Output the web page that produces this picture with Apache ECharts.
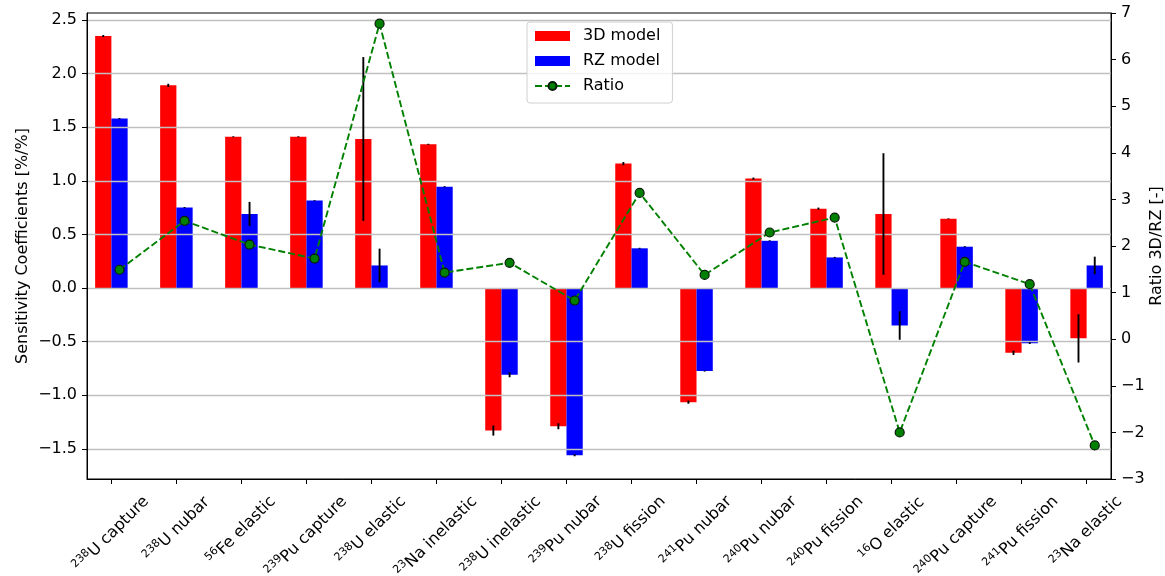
<!DOCTYPE html>
<html>
<head>
<meta charset="utf-8">
<script src="https://cdn.jsdelivr.net/npm/echarts@6/dist/echarts.min.js"></script>
<style>
  html, body { margin: 0; padding: 0; background: #fff; }
  #chart { width: 1165px; height: 576px; }
</style>
</head>
<body>
<div id="chart"></div>
<script>
// Nuclide mass numbers and reaction names for each category
const massNumbers = ['238', '238', '56', '239', '238', '23', '238', '239', '238', '241', '240', '240', '16', '240', '241', '23'];
const reactions = ['U capture', 'U nubar', 'Fe elastic', 'Pu capture', 'U elastic', 'Na inelastic', 'U inelastic', 'Pu nubar',
                   'U fission', 'Pu nubar', 'Pu nubar', 'Pu fission', 'O elastic', 'Pu capture', 'Pu fission', 'Na elastic'];

// Sensitivity coefficients [%/%] and their uncertainties
const model3D = [2.35, 1.89, 1.41, 1.41, 1.39, 1.34, -1.33, -1.29, 1.16, -1.065, 1.02, 0.74, 0.69, 0.645, -0.605, -0.47];
const err3D   = [0.01, 0.015, 0.005, 0.005, 0.764, 0.005, 0.047, 0.028, 0.015, 0.015, 0.01, 0.01, 0.567, 0.004, 0.02, 0.225];
const modelRZ = [1.58, 0.75, 0.69, 0.815, 0.21, 0.945, -0.81, -1.56, 0.37, -0.775, 0.44, 0.285, -0.35, 0.385, -0.515, 0.21];
const errRZ   = [0.005, 0.005, 0.113, 0.004, 0.157, 0.005, 0.023, 0.01, 0.005, 0.005, 0.005, 0.005, 0.133, 0.005, 0.008, 0.082];

// Ratio 3D / RZ
const ratio = [1.49, 2.54, 2.03, 1.73, 6.77, 1.43, 1.64, 0.83, 3.14, 1.38, 2.29, 2.61, -2.00, 1.66, 1.18, -2.28];

// Tick values
const leftTicks = [-1.5, -1.0, -0.5, 0.0, 0.5, 1.0, 1.5, 2.0, 2.5];

const FONT = 'DejaVu Sans';
const MAIN_SIZE = 16;
const SUP_SIZE = 11;
const BAR_W = 0.25;          // width of each bar in category units
const LABEL_PAD = 14;        // gap between axis and top of rotated label box
const LABEL_H = 17;          // text height used for rotated box size

const idx = reactions.map((_, i) => i);

// Measure each label so rotated labels can be centred under their tick
const ctx = document.createElement('canvas').getContext('2d');
function textWidth(s, size) { ctx.font = size + 'px "' + FONT + '"'; return ctx.measureText(s).width; }
const labelWidths = idx.map(i => textWidth(massNumbers[i], SUP_SIZE) + textWidth(reactions[i], MAIN_SIZE));
const minW = Math.min.apply(null, labelWidths);
const labelMargin = LABEL_PAD + (minW + LABEL_H) / (2 * Math.SQRT2);

const rich = {
  sup: { fontSize: SUP_SIZE, fontFamily: FONT, color: '#000', verticalAlign: 'bottom', padding: [0, 0, 7, 0] },
  t:   { fontSize: MAIN_SIZE, fontFamily: FONT, color: '#000', verticalAlign: 'bottom' }
};
// spacer per label: shifts the text straight down by (w - minW) / (2*sqrt2)
idx.forEach(i => {
  const p = (labelWidths[i] - minW) / 2;
  rich['sp' + i] = { width: p, height: MAIN_SIZE + p, verticalAlign: 'bottom', fontSize: MAIN_SIZE };
});

const minus = v => (v < 0 ? '\u2212' : '') + Math.abs(v);

function errorBars(values, errors, shift) {
  return values.map((v, i) => [i + shift, v, errors[i]]);
}

function renderErr(params, api) {
  const x = api.value(0), y = api.value(1), e = api.value(2);
  const a = api.coord([x, y + e]);
  const b = api.coord([x, y - e]);
  return {
    type: 'line',
    shape: { x1: a[0], y1: a[1], x2: b[0], y2: b[1] },
    style: { stroke: '#000', lineWidth: 1.9 }
  };
}

const chart = echarts.init(document.getElementById('chart'), null, { renderer: 'canvas' });

chart.setOption({
  animation: false,
  backgroundColor: '#fff',
  textStyle: { fontFamily: FONT },
  grid: {
    left: 87, right: 54, top: 13, bottom: 97,
    show: true, borderColor: '#000', borderWidth: 1, backgroundColor: 'transparent',
    outerBoundsMode: 'none', containLabel: false
  },
  legend: {
    orient: 'vertical',
    left: 527, top: 22,
    padding: [5, 12, 8, 7],
    itemWidth: 35, itemHeight: 10, itemGap: 7,
    backgroundColor: 'rgba(255,255,255,0.8)',
    borderColor: '#d0d0d0', borderWidth: 1, borderRadius: 3,
    textStyle: { fontSize: 16, color: '#000', fontFamily: FONT, lineHeight: 18, padding: [0, 0, 0, 8] },
    data: [
      { name: '3D model', icon: 'rect' },
      { name: 'RZ model', icon: 'rect' },
      { name: 'Ratio' }
    ]
  },
  xAxis: {
    type: 'value',
    min: -0.375, max: 15.375,
    axisLine: { show: true, onZero: false, lineStyle: { color: '#000', width: 1 } },
    axisTick: { show: true, customValues: idx, length: 5, inside: false, lineStyle: { color: '#000', width: 1 } },
    axisLabel: {
      customValues: idx,
      rotate: 45,
      align: 'center',
      verticalAlign: 'middle',
      margin: labelMargin,
      rich: rich,
      formatter: v => {
        const i = Math.round(v);
        return '{sup|' + massNumbers[i] + '}{t|' + reactions[i] + '}{sp' + i + '|\u00a0}';
      }
    },
    splitLine: { show: false }
  },
  yAxis: [
    {
      type: 'value',
      position: 'left',
      min: -1.782, max: 2.565,
      z: 3,
      name: 'Sensitivity Coefficients [%/%]',
      nameLocation: 'middle', nameRotate: 90, nameGap: 56, nameMoveOverlap: false,
      nameTextStyle: { fontSize: 16, color: '#000', fontFamily: FONT },
      axisLine: { show: true, onZero: false, lineStyle: { color: '#000', width: 1 } },
      axisTick: { show: true, customValues: leftTicks, length: 5, inside: false, lineStyle: { color: '#000', width: 1 } },
      axisLabel: {
        customValues: leftTicks, margin: 10, fontSize: 16, color: '#000', fontFamily: FONT,
        formatter: v => (v < 0 ? '\u2212' : '') + Math.abs(v).toFixed(1)
      },
      splitLine: { show: true, lineStyle: { color: '#c0c0c0', width: 1.3 } }
    },
    {
      type: 'value',
      position: 'right',
      min: -3, max: 7, interval: 1,
      name: 'Ratio 3D/RZ [-]',
      nameLocation: 'middle', nameRotate: 90, nameGap: 38, nameMoveOverlap: false,
      nameTextStyle: { fontSize: 16, color: '#000', fontFamily: FONT },
      axisLine: { show: true, onZero: false, lineStyle: { color: '#000', width: 1 } },
      axisTick: { show: true, length: 5, inside: false, lineStyle: { color: '#000', width: 1 } },
      axisLabel: { margin: 10, fontSize: 16, color: '#000', fontFamily: FONT, formatter: minus },
      splitLine: { show: false }
    }
  ],
  series: [
    {
      name: '3D model', type: 'bar', yAxisIndex: 0, z: 2,
      barWidth: (BAR_W * 100) + '%', barGap: '0%',
      itemStyle: { color: '#ff0000' },
      data: model3D.map((v, i) => [i, v])
    },
    {
      name: 'RZ model', type: 'bar', yAxisIndex: 0, z: 2,
      barWidth: (BAR_W * 100) + '%', barGap: '0%',
      itemStyle: { color: '#0000ff' },
      data: modelRZ.map((v, i) => [i, v])
    },
    {
      name: '3D error', type: 'custom', yAxisIndex: 0, z: 4, clip: false,
      renderItem: renderErr,
      data: errorBars(model3D, err3D, -BAR_W / 2)
    },
    {
      name: 'RZ error', type: 'custom', yAxisIndex: 0, z: 4, clip: false,
      renderItem: renderErr,
      data: errorBars(modelRZ, errRZ, BAR_W / 2)
    },
    {
      name: 'Ratio', type: 'line', yAxisIndex: 1, z: 5,
      symbol: 'circle', symbolSize: 9,
      lineStyle: { color: '#008000', width: 1.9, type: [7, 3] },
      itemStyle: { color: '#008000', borderColor: '#0a1a0a', borderWidth: 1.2 },
      data: ratio.map((r, i) => [i + BAR_W / 2, r])
    }
  ]
});
</script>
</body>
</html>
